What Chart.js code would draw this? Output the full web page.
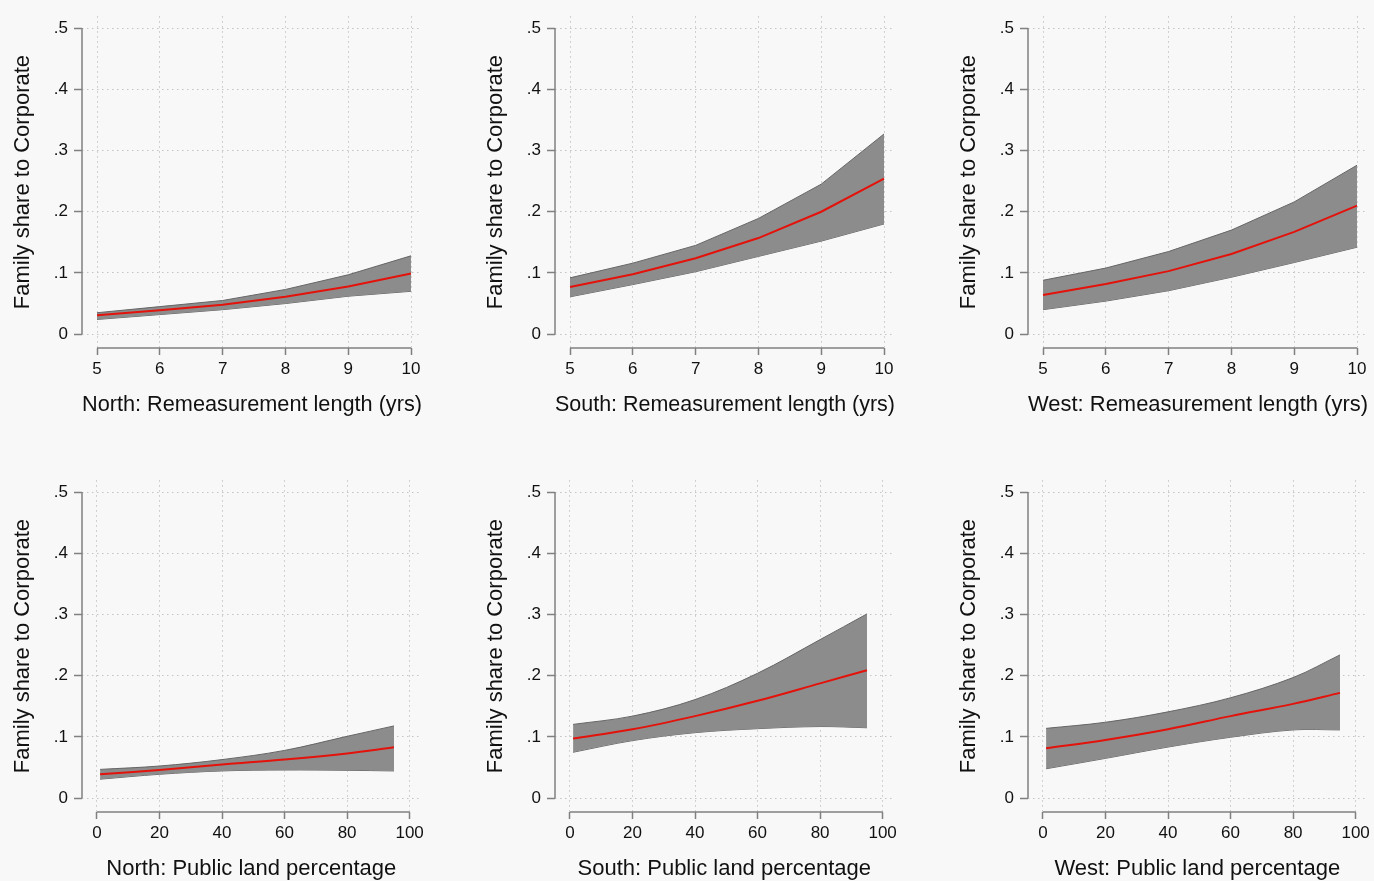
<!DOCTYPE html>
<html>
<head>
<meta charset="utf-8">
<title>Family share to Corporate</title>
<script src="https://cdn.jsdelivr.net/npm/chart.js@4.4.1/dist/chart.umd.min.js"></script>
<style>
    html, body { margin: 0; padding: 0; background: #f8f8f8; overflow: hidden; }
    body { width: 1374px; height: 881px; position: relative; }
    canvas { position: absolute; }
</style>
</head>
<body>
<canvas id="northYrs" width="428" height="430" style="left:0px;top:0px"></canvas>
<canvas id="southYrs" width="428" height="430" style="left:473px;top:0px"></canvas>
<canvas id="westYrs" width="428" height="430" style="left:946px;top:0px"></canvas>
<canvas id="northPub" width="428" height="430" style="left:0px;top:464px"></canvas>
<canvas id="southPub" width="428" height="430" style="left:473px;top:464px"></canvas>
<canvas id="westPub" width="428" height="430" style="left:946px;top:464px"></canvas>
<script>
// x values
var yearsX = [5, 6, 7, 8, 9, 10];
var publicX = [1, 20, 40, 60, 80, 95];

// Remeasurement length (top row)
var northYrsFit = [0.031, 0.039, 0.048, 0.061, 0.078, 0.099];
var northYrsHi  = [0.035, 0.045, 0.055, 0.073, 0.097, 0.128];
var northYrsLo  = [0.024, 0.032, 0.040, 0.050, 0.062, 0.070];

var southYrsFit = [0.077, 0.098, 0.124, 0.157, 0.200, 0.254];
var southYrsHi  = [0.092, 0.116, 0.145, 0.189, 0.245, 0.327];
var southYrsLo  = [0.061, 0.081, 0.102, 0.127, 0.152, 0.180];

var westYrsFit = [0.064, 0.082, 0.103, 0.131, 0.167, 0.210];
var westYrsHi  = [0.088, 0.108, 0.135, 0.170, 0.216, 0.276];
var westYrsLo  = [0.040, 0.054, 0.071, 0.093, 0.117, 0.142];

// Public land percentage (bottom row)
var northPubFit = [0.039, 0.046, 0.055, 0.063, 0.073, 0.083];
var northPubHi  = [0.047, 0.0525, 0.063, 0.078, 0.101, 0.118];
var northPubLo  = [0.031, 0.039, 0.0445, 0.046, 0.0455, 0.0445];

var southPubFit = [0.0975, 0.1125, 0.134, 0.159, 0.1875, 0.209];
var southPubHi  = [0.1205, 0.134, 0.161, 0.204, 0.259, 0.301];
var southPubLo  = [0.075, 0.094, 0.107, 0.1135, 0.117, 0.115];

var westPubFit = [0.0815, 0.095, 0.1125, 0.134, 0.154, 0.172];
var westPubHi  = [0.114, 0.124, 0.141, 0.164, 0.197, 0.234];
var westPubLo  = [0.048, 0.065, 0.0835, 0.0995, 0.1115, 0.1115];

var yTitle = "Family share to Corporate";
var fontFamily = "'Liberation Sans', Arial, Helvetica, sans-serif";

function toPoints(xs, ys) {
    return xs.map(function (x, i) {
        return {x: x, y: ys[i]};
    });
}

// Stata style axis lines: only from first to last tick
var stataAxes = {
    id: 'stataAxes',
    afterDraw: function (chart) {
        var ctx = chart.ctx;
        var xs = chart.scales.x, ys = chart.scales.y;
        var area = chart.chartArea;
        var xt = xs.ticks, yt = ys.ticks;
        ctx.save();
        ctx.strokeStyle = '#808080';
        ctx.lineWidth = 1.5;
        ctx.beginPath();
        ctx.moveTo(area.left, ys.getPixelForValue(yt[0].value));
        ctx.lineTo(area.left, ys.getPixelForValue(yt[yt.length - 1].value));
        ctx.moveTo(xs.getPixelForValue(xt[0].value), area.bottom);
        ctx.lineTo(xs.getPixelForValue(xt[xt.length - 1].value), area.bottom);
        ctx.stroke();
        ctx.restore();
    }
};

function makePanel(id, xs, fit, lo, hi, xLabel, xMin, xMax, xStep, tension) {
    var ctx = document.getElementById(id);
    new Chart(ctx, {
        type: 'line',
        data: {
            datasets: [
                {
                    label: "fit",
                    data: toPoints(xs, fit),
                    borderColor: "#e3120b",
                    borderWidth: 2,
                    pointRadius: 0,
                    fill: false,
                    tension: tension
                },
                {
                    label: "upper",
                    data: toPoints(xs, hi),
                    borderColor: "#656565",
                    borderWidth: 1,
                    backgroundColor: "#8c8c8c",
                    pointRadius: 0,
                    fill: '+1',
                    tension: tension
                },
                {
                    label: "lower",
                    data: toPoints(xs, lo),
                    borderColor: "#656565",
                    borderWidth: 1,
                    pointRadius: 0,
                    fill: false,
                    tension: tension
                }
            ]
        },
        options: {
            responsive: false,
            animation: false,
            layout: {padding: {top: 12, right: 6, left: 0, bottom: 0}},
            plugins: {
                legend: {display: false},
                tooltip: {enabled: false}
            },
            scales: {
                x: {
                    type: 'linear',
                    min: xMin,
                    max: xMax,
                    afterFit: function (s) { s.height = 82; },
                    grid: {
                        color: '#c4c4c4',
                        lineWidth: 1,
                        tickColor: '#808080',
                        tickWidth: 1.5,
                        tickLength: 7
                    },
                    border: {display: false, dash: [1.5, 3.5]},
                    ticks: {
                        stepSize: xStep,
                        includeBounds: false,
                        maxRotation: 0,
                        padding: 4,
                        color: '#111',
                        font: {family: fontFamily, size: 17}
                    },
                    title: {
                        display: true,
                        text: xLabel,
                        color: '#111',
                        padding: {top: 0, bottom: 12},
                        font: {family: fontFamily, size: 22}
                    }
                },
                y: {
                    min: -0.0226,
                    max: 0.5194,
                    afterFit: function (s) { s.width = 82; },
                    grid: {
                        color: '#c4c4c4',
                        lineWidth: 1,
                        tickColor: '#808080',
                        tickWidth: 1.5,
                        tickLength: 8
                    },
                    border: {display: false, dash: [1.5, 3.5]},
                    ticks: {
                        stepSize: 0.1,
                        includeBounds: false,
                        padding: 6,
                        color: '#111',
                        font: {family: fontFamily, size: 17},
                        callback: function (v) {
                            return v === 0 ? '0' : v.toFixed(1).replace(/^0/, '');
                        }
                    },
                    title: {
                        display: true,
                        text: yTitle,
                        color: '#111',
                        padding: {top: 10, bottom: 0},
                        font: {family: fontFamily, size: 22}
                    }
                }
            }
        },
        plugins: [stataAxes]
    });
}

makePanel("northYrs", yearsX, northYrsFit, northYrsLo, northYrsHi, "North: Remeasurement length (yrs)", 4.761, 10.175, 1, 0);
makePanel("southYrs", yearsX, southYrsFit, southYrsLo, southYrsHi, "South: Remeasurement length (yrs)", 4.761, 10.175, 1, 0);
makePanel("westYrs", yearsX, westYrsFit, westYrsLo, westYrsHi, "West: Remeasurement length (yrs)", 4.761, 10.175, 1, 0);

makePanel("northPub", publicX, northPubFit, northPubLo, northPubHi, "North: Public land percentage", -4.78, 103.5, 20, 0.35);
makePanel("southPub", publicX, southPubFit, southPubLo, southPubHi, "South: Public land percentage", -4.78, 103.5, 20, 0.35);
makePanel("westPub", publicX, westPubFit, westPubLo, westPubHi, "West: Public land percentage", -4.78, 103.5, 20, 0.35);
</script>
</body>
</html>
